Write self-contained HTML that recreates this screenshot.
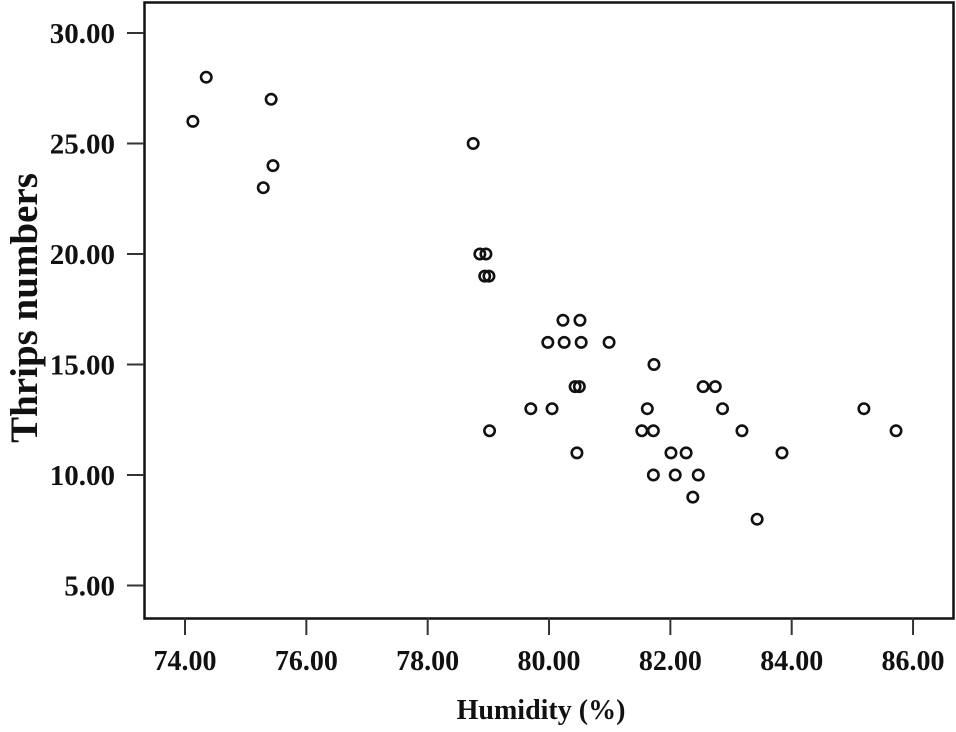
<!DOCTYPE html>
<html><head><meta charset="utf-8"><style>
body{margin:0;background:#fff}
svg text{font-family:"Liberation Serif",serif;font-weight:bold;fill:#111}
</style></head><body>
<svg id="chart" width="956" height="727" xmlns="http://www.w3.org/2000/svg">
<rect x="144.5" y="2.5" width="809" height="616" fill="none" stroke="#111" stroke-width="2.5"/>
<g id="xt"></g><g id="yt"></g><g id="pts"></g>
<text x="541" y="719" font-size="28" text-anchor="middle">Humidity (%)</text>
<text transform="translate(37,308) rotate(-90)" font-size="39" text-anchor="middle">Thrips numbers</text>
</svg>
<script>
const xTicks=[74,76,78,80,82,84,86];
const yTicks=[5,10,15,20,25,30];
const humidity=[74.13,74.35,75.29,75.42,75.45,78.75,78.86,78.96,78.94,79.01,79.02,79.70,79.98,80.05,80.23,80.25,80.43,80.46,80.50,80.51,80.53,80.99,81.53,81.62,81.72,81.73,81.72,82.01,82.08,82.26,82.37,82.46,82.54,82.74,82.86,83.18,83.43,83.84,85.19,85.72];
const thrips=[26,28,23,27,24,25,20,20,19,19,12,13,16,13,17,16,14,11,14,17,16,16,12,13,12,15,10,11,10,11,9,10,14,14,13,12,8,11,13,12];
const NS="http://www.w3.org/2000/svg";
const xs=v=>185+(v-74)*60.67;
const ys=v=>33+(30-v)*22.1;
function mk(t,a,p){const e=document.createElementNS(NS,t);for(const k in a)e.setAttribute(k,a[k]);p.appendChild(e);return e;}
const xt=document.getElementById('xt'),yt=document.getElementById('yt'),pts=document.getElementById('pts');
xTicks.forEach(v=>{
 const l=mk('line',{x1:xs(v),x2:xs(v),y1:618,y2:635,stroke:'#333','stroke-width':2},xt);
 
 
 const t=mk('text',{x:xs(v),y:670,'font-size':28,'text-anchor':'middle'},xt);t.textContent=v.toFixed(2);
 
 
});
yTicks.forEach(v=>{
 const l=mk('line',{x1:127,x2:144,y1:ys(v),y2:ys(v),stroke:'#333','stroke-width':2},yt);
 
 
 const t=mk('text',{x:115,y:ys(v)+10,'font-size':29,'text-anchor':'end'},yt);t.textContent=v.toFixed(2);
 
 
});
humidity.forEach((h,i)=>{
 const c=mk('circle',{cx:xs(h),cy:ys(thrips[i]),r:5.2,fill:'none',stroke:'#111','stroke-width':2.6},pts);
 
 
});
</script>
</body></html>
